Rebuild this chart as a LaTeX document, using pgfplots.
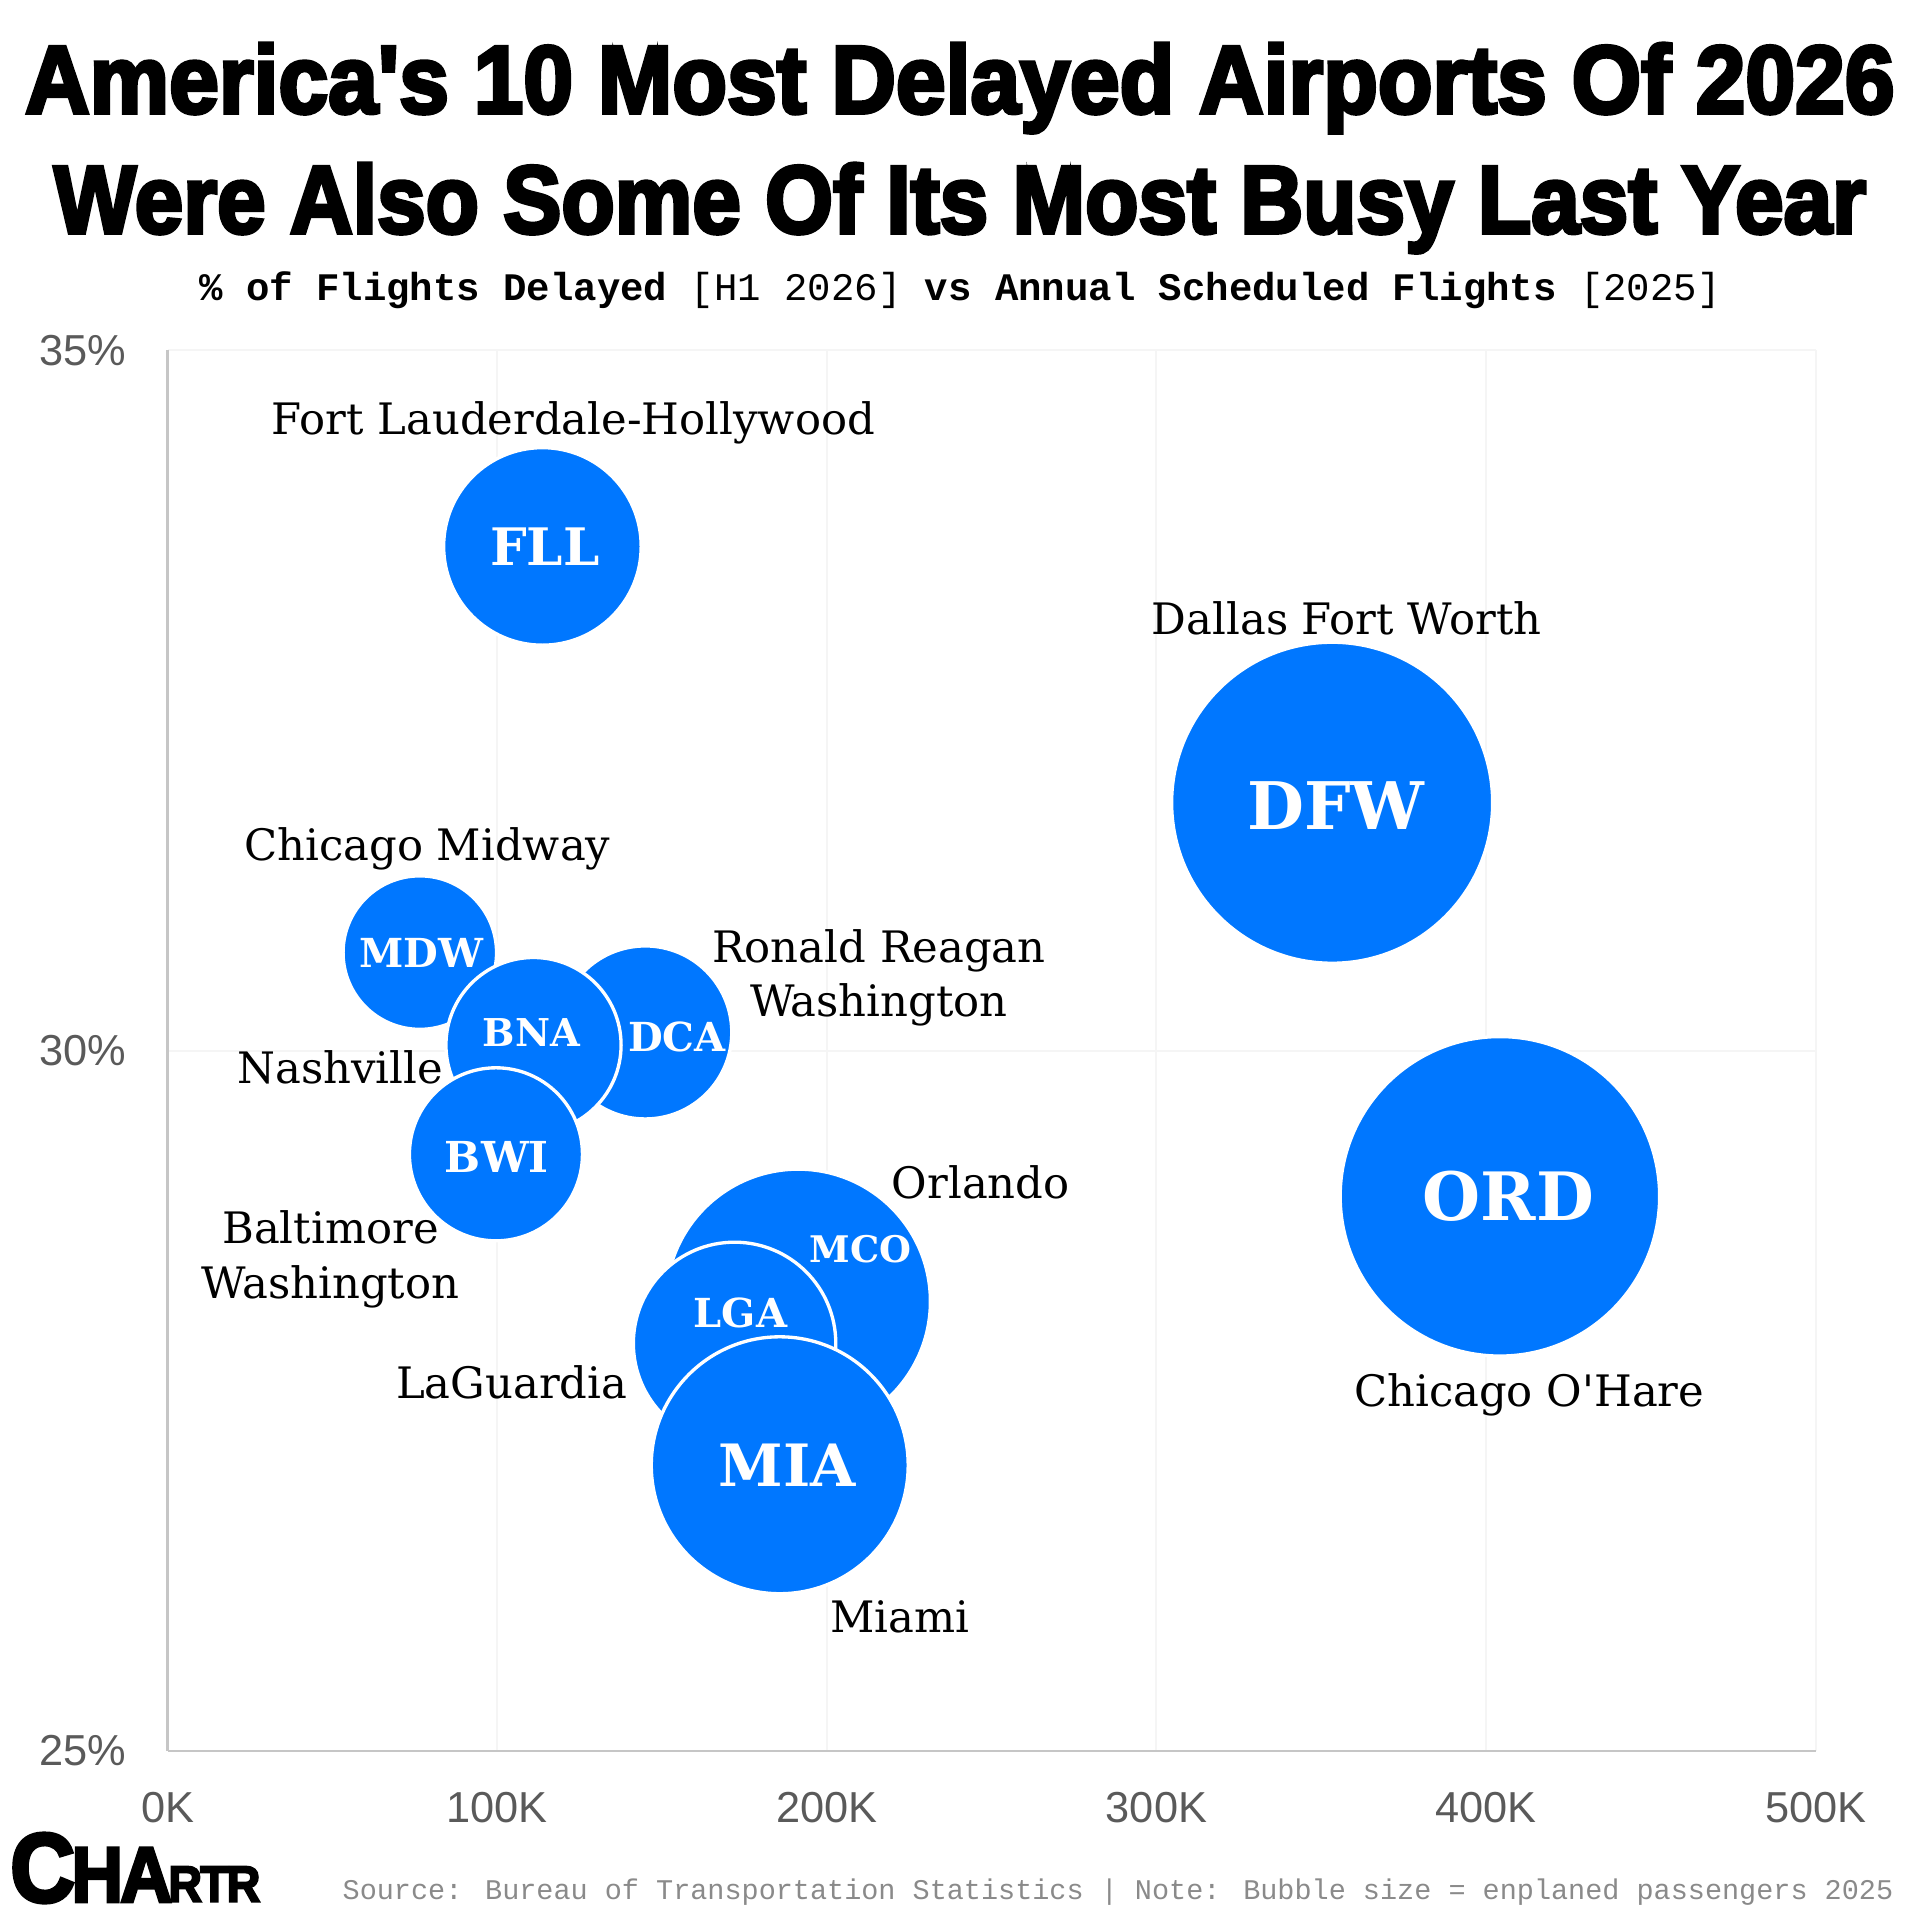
\documentclass[border=0pt]{standalone}
\usepackage{pgfplots}
\pgfplotsset{compat=1.18}
\usepackage{pgfplotstable}
\usepackage{fontspec}
\setmainfont{DejaVu Serif}
\newfontfamily\titlefont[FakeBold=4]{Liberation Sans}
\newfontfamily\monofont{Liberation Mono}
\newfontfamily\tickfont{Liberation Sans}
\definecolor{chartblue}{HTML}{0077FF}
\definecolor{tickgray}{HTML}{5A5A5A}
\definecolor{srcgray}{HTML}{8A8A8A}

% x = annual scheduled flights 2025 (thousands), y = % delayed H1 2026, pax = enplaned passengers (millions)
\pgfplotstableread{
name x y pax
FLL 113.7 33.60 15.9
DFW 353.3 31.77 42.0
ORD 404.2 28.96 41.6
MDW 76.5 30.70 9.6
DCA 144.9 30.13 12.2
BNA 111.0 30.04 12.5
BWI 99.6 29.26 12.2
MCO 191.3 28.21 28.5
LGA 172.0 27.91 16.7
MIA 185.7 27.04 26.9
}\airports

\begin{document}
\begin{tikzpicture}
\useasboundingbox (0,0) rectangle (576pt,576pt);
% Title
\node[anchor=base, inner sep=0] at (288pt,542.1pt) {\resizebox{560.9pt}{20.9pt}{\titlefont\bfseries America\textquotesingle s 10 Most Delayed Airports Of 2026}};
\node[anchor=base, inner sep=0] at (288pt,506.1pt) {\resizebox{543.6pt}{20.9pt}{\titlefont\bfseries Were Also Some Of Its Most Busy Last Year}};
\node[anchor=base, inner sep=0] at (288pt,485.9pt) {\fontsize{11.7}{14}\selectfont\monofont\bfseries \% of Flights Delayed {\mdseries [H1 2026]} vs Annual Scheduled Flights {\mdseries [2025]}};

\begin{axis}[
  at={(50.3pt,50.7pt)}, anchor=south west,
  scale only axis, width=494.4pt, height=420.2pt,
  xmin=0, xmax=500, ymin=25, ymax=35,
  xtick={0,100,200,300,400,500},
  ytick={25,30,35},
  xticklabel={\pgfmathprintnumber{\tick}K},
  yticklabel={\pgfmathprintnumber{\tick}\%},
  /pgf/number format/assume math mode=true,
  major tick length=0pt,
  axis x line*=bottom, axis y line*=left,
  axis line style={draw=gray!45, line width=0.7pt},
  grid=major,
  major grid style={draw=gray!8, line width=0.6pt},
  xticklabel style={font=\tickfont\fontsize{13}{15}\selectfont, text=tickgray, anchor=center, inner sep=0pt, yshift=-16.9pt},
  yticklabel style={font=\tickfont\fontsize{13}{15}\selectfont, text=tickgray, anchor=east, inner sep=0pt, xshift=-12.2pt},
  clip=false,
]
\addplot[scatter, only marks, mark=*,
  scatter/use mapped color={draw=white, fill=chartblue},
  mark options={line width=1pt},
  visualization depends on={7.43*sqrt(\thisrow{pax}) \as \perpointmarksize},
  scatter/@pre marker code/.append style={/tikz/mark size=\perpointmarksize},
] table[x=x, y=y] {\airports};

% anchor points for the bubble codes
\coordinate (cFLL) at (axis cs:114.4,33.60);
\coordinate (cDFW) at (axis cs:354.4,31.75);
\coordinate (cORD) at (axis cs:406.8,28.96);
\coordinate (cMDW) at (axis cs:76.9,30.70);
\coordinate (cBNA) at (axis cs:110.3,30.13);
\coordinate (cDCA) at (axis cs:154.5,30.10);
\coordinate (cBWI) at (axis cs:99.9,29.24);
\coordinate (cMCO) at (axis cs:210.3,28.58);
\coordinate (cLGA) at (axis cs:173.8,28.13);
\coordinate (cMIA) at (axis cs:188.0,27.04);
% anchor points for the names
\coordinate (nFLL) at (axis cs:123.1,34.48);
\coordinate (nDFW) at (axis cs:357.7,33.09);
\coordinate (nMDW) at (axis cs:78.8,31.44);
\coordinate (nDCA) at (axis cs:215.8,30.52);
\coordinate (nBNA) at (axis cs:52.4,29.88);
\coordinate (nBWI) at (axis cs:49.4,28.51);
\coordinate (nMCO) at (axis cs:246.7,29.06);
\coordinate (nLGA) at (axis cs:104.4,27.63);
\coordinate (nORD) at (axis cs:413.1,27.545);
\coordinate (nMIA) at (axis cs:222.1,25.96);
\end{axis}

% bubble codes
\begin{scope}[every node/.style={text=white, inner sep=0pt}]
\node[font=\bfseries\fontsize{15.5}{17}\selectfont] at (cFLL) {FLL};
\node[font=\bfseries\fontsize{19.7}{22}\selectfont] at (cDFW) {DFW};
\node[font=\bfseries\fontsize{20}{22}\selectfont] at (cORD) {ORD};
\node[font=\bfseries\fontsize{12}{14}\selectfont] at (cMDW) {MDW};
\node[font=\bfseries\fontsize{11.5}{14}\selectfont] at (cBNA) {BNA};
\node[font=\bfseries\fontsize{12}{14}\selectfont] at (cDCA) {DCA};
\node[font=\bfseries\fontsize{12.8}{14}\selectfont] at (cBWI) {BWI};
\node[font=\bfseries\fontsize{11}{13}\selectfont] at (cMCO) {MCO};
\node[font=\bfseries\fontsize{12}{14}\selectfont] at (cLGA) {LGA};
\node[font=\bfseries\fontsize{17.5}{20}\selectfont] at (cMIA) {MIA};
\end{scope}

% airport names
\begin{scope}[every node/.style={text=black, font=\fontsize{13}{16.3}\selectfont, inner sep=0pt, align=center}]
\node at (nFLL) {Fort Lauderdale-Hollywood};
\node at (nDFW) {Dallas Fort Worth};
\node at (nMDW) {Chicago Midway};
\node at (nDCA) {Ronald Reagan\\Washington};
\node at (nBNA) {Nashville};
\node at (nBWI) {Baltimore\\Washington};
\node at (nMCO) {Orlando};
\node at (nLGA) {LaGuardia};
\node at (nORD) {Chicago O\textquotesingle Hare};
\node at (nMIA) {Miami};
\end{scope}

% footer
\node[anchor=south west, inner sep=0] at (2.9pt,5pt) {\resizebox{75pt}{20.5pt}{\titlefont\bfseries C\kern-0.04em\scalebox{0.8}{H\kern-0.04em A}\kern-0.04em\scalebox{0.52}{R\kern-0.04em T\kern-0.04em R}}};
\node[anchor=base east, inner sep=0] at (568.2pt,6.2pt) {\fontsize{8.55}{10}\selectfont\monofont\color{srcgray}Source: Bureau of Transportation Statistics | Note: Bubble size = enplaned passengers 2025};
\end{tikzpicture}
\end{document}
